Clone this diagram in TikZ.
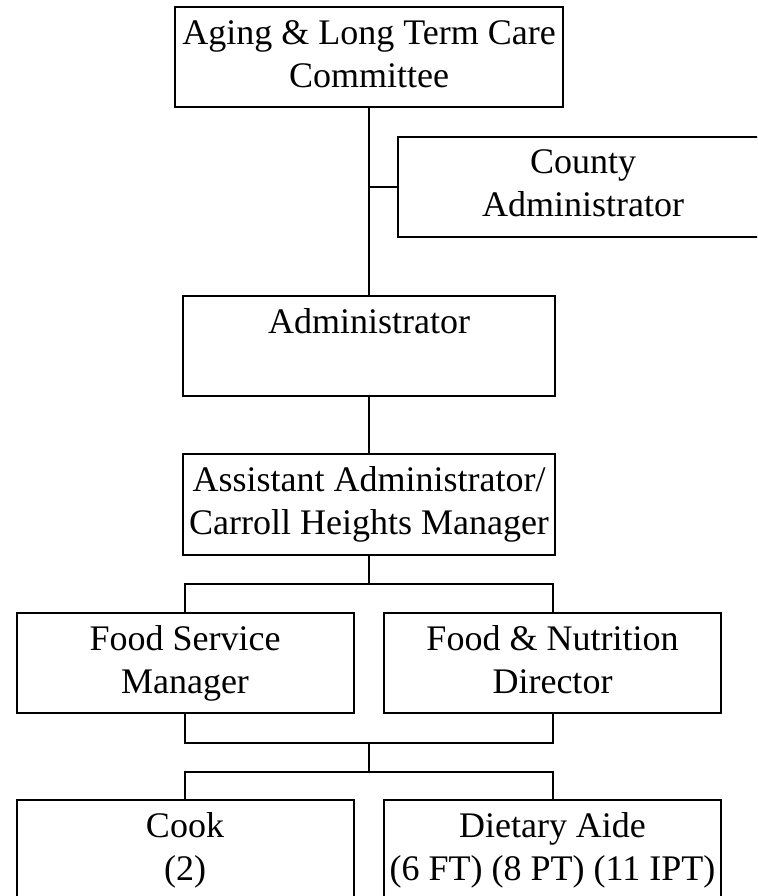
\documentclass[tikz,border=0pt]{standalone}
\usepackage{fontspec}
\setmainfont{Liberation Serif}
\usepackage{tikz}
\usetikzlibrary{calc}
\tikzset{>=latex}
\newcommand{\botrule}{\rule[-7pt]{0pt}{7pt}}
\tikzstyle{orgbox}=[draw,line width=2pt,align=center,inner sep=0pt,
  minimum height=100pt,font=\fontsize{36}{43}\selectfont,
  execute at end node=\botrule]
\tikzstyle{orgline}=[line width=2pt]

\begin{document}
\begin{tikzpicture}[x=1pt,y=-1pt]
            \def\W{372}  % width of the middle boxes
            \def\w{337}  % width of the lower boxes
            \def\xl{185}
            \def\xr{552.5}
            \useasboundingbox (0,0) rectangle (757,896);
            \fill[white] (0,0) rectangle (757,896);
            \clip (0,0) rectangle (757,896);
            \node[orgbox,minimum width=388] (committee) at (369,57.5) {Aging \& Long Term Care\\Committee};
            \node[orgbox,minimum width=370] (county) at (583,187) {County\\Administrator};
            \node[orgbox,minimum width=\W] (admin) at (369,346) {Administrator\\\mbox{}};
            \node[orgbox,minimum width=\W,minimum height=101] (asst) at (369,504.5) {Assistant Administrator/\\Carroll Heights Manager};
            \node[orgbox,minimum width=\w] (fsm) at (\xl,663) {Food Service\\Manager};
            \node[orgbox,minimum width=\w] (fnd) at (\xr,663) {Food \& Nutrition\\Director};
            \node[orgbox,minimum width=\w] (cook) at (\xl,850) {Cook\\(2)};
            \node[orgbox,minimum width=\w] (aide) at (\xr,850) {Dietary Aide\\(6 FT) (8 PT) (11 IPT)};
            \coordinate (j1) at (369,584);
            \coordinate (j2) at (369,743);
            \coordinate (j3) at (369,772);
            \draw[orgline] (committee) -- (admin);
            \draw[orgline] (county.west) -- (county.west -| committee.south);
            \draw[orgline] (admin) -- (asst);
            \draw[orgline] (asst) -- (j1);
            \draw[orgline] (fsm.north) |- (j1) -| (fnd.north);
            \draw[orgline] (fsm.south) |- (j2) -| (fnd.south);
            \draw[orgline] (j2) -- (j3);
            \draw[orgline] (cook.north) |- (j3) -| (aide.north);
        \end{tikzpicture}
\end{document}
